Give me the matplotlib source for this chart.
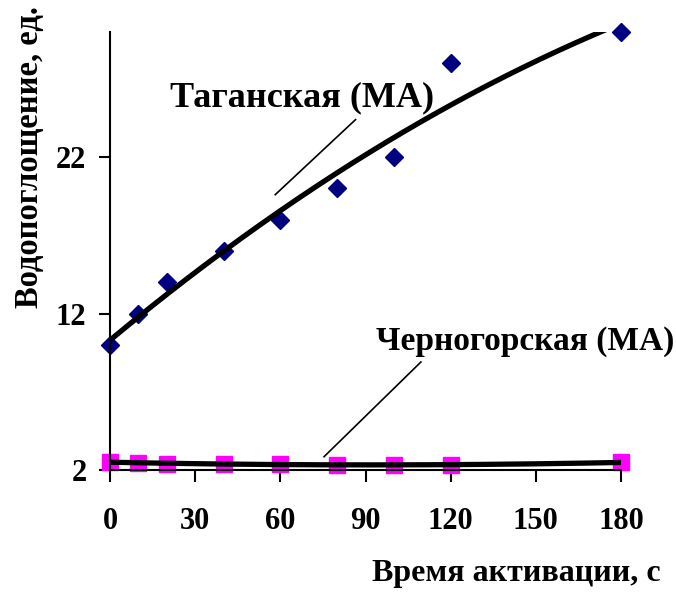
import numpy as np
import matplotlib
matplotlib.use("Agg")
import matplotlib.pyplot as plt

# время активации, с
time_s = [0, 10, 20, 40, 60, 80, 100, 120, 180]
# водопоглощение, ед.
taganskaya = [10.0, 12.0, 14.0, 16.0, 18.0, 20.0, 22.0, 28.0, 30.0]
chernogorskaya = [2.5, 2.45, 2.4, 2.4, 2.4, 2.35, 2.3, 2.3, 2.5]

x_ticks = [0, 30, 60, 90, 120, 150, 180]
y_ticks = [2, 12, 22]

plt.rcParams['font.family'] = ['Liberation Serif', 'DejaVu Serif']
plt.rcParams['font.weight'] = 'bold'

fig = plt.figure(figsize=(6.76, 5.93), dpi=100)
ax = fig.add_axes([110/676, 123/593, 511/676, 438/593])

x = np.array(time_s, dtype=float)
xs = np.linspace(0, 180, 300)

ax.plot(x, taganskaya, ls='none', marker='D', ms=9, color='#000080', zorder=2,
        clip_on=False)
ax.plot(x, chernogorskaya, ls='none', marker='s', ms=11, color='#FF00FF', zorder=2,
        clip_on=False)

# polynomial trend lines (as in the spreadsheet)
for ys in (taganskaya, chernogorskaya):
    c = np.polyfit(x, ys, 2)
    ax.plot(xs, np.polyval(c, xs), color='black', lw=3.8, zorder=3)

ax.set_xlim(0, 180)
ax.set_ylim(2, 30)
ax.set_xticks(x_ticks)
ax.set_yticks(y_ticks)
ax.spines['top'].set_visible(False)
ax.spines['right'].set_visible(False)
for s in ('left', 'bottom'):
    ax.spines[s].set_linewidth(1.5)
    ax.spines[s].set_zorder(4)
ax.tick_params(axis='x', length=8.5, width=1.5, pad=18, labelsize=22)
ax.tick_params(axis='y', length=8, width=1.5, pad=9, labelsize=22)

fig.text(30/676, 1 - 157/593, 'Водопоглощение, ед.', rotation=90,
         ha='center', va='center', fontsize=23.5, fontweight='bold')
fig.text(516/676, 1 - 573/593, 'Время активации, с', ha='center', va='center',
         fontsize=23, fontweight='bold')

ax.text(67.6, 25.8, 'Таганская (МА)', ha='center', va='center', fontsize=26,
        fontweight='bold')
ax.plot([58.2, 86.5], [19.6, 24.4], color='black', lw=1.2)

ax.text(146.2, 10.2, 'Черногорская (МА)', ha='center', va='center', fontsize=24,
        fontweight='bold', clip_on=False)
ax.plot([75.4, 109.5], [2.85, 8.9], color='black', lw=1.2)

fig.savefig('out.png', dpi=100)
